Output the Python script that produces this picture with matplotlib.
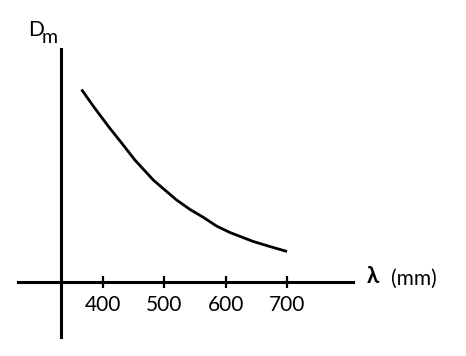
import matplotlib
matplotlib.use("Agg")
import matplotlib.pyplot as plt

# curve (arbitrary D units)
wavelength = [365, 387, 409, 431, 452, 482, 498, 520, 542, 564, 585, 607, 645, 672, 700]
dispersion = [1.92, 1.73, 1.55, 1.38, 1.215, 1.015, 0.93, 0.815, 0.72, 0.64, 0.555, 0.49, 0.40, 0.35, 0.30]
tick_vals = [400, 500, 600, 700]
tick_labels = ["400", "500", "600", "700"]

plt.rcParams['font.family'] = ['Lato', 'DejaVu Sans']

fig = plt.figure(figsize=(4.66, 3.56), dpi=100)
ax = fig.add_axes([0, 0, 1, 1])
ax.set_xlim(232.1, 991.8)
ax.set_ylim(-0.745, 2.815)

ax.plot(wavelength, dispersion, color='black', lw=2.0, solid_capstyle='butt',
        solid_joinstyle='round')

for s in ['top', 'right']:
    ax.spines[s].set_visible(False)
ax.spines['left'].set_position(('data', 331.5))
ax.spines['left'].set_bounds(-0.555, 2.325)
ax.spines['bottom'].set_position(('data', 0))
ax.spines['bottom'].set_bounds(261, 808)
for s in ['left', 'bottom']:
    ax.spines[s].set_linewidth(2.2)

ax.set_yticks([])
ax.set_xticks(tick_vals)
ax.set_xticklabels(tick_labels)
ax.tick_params(axis='x', direction='inout', length=8, width=1.6, pad=6, labelsize=15)

ax.text(0.061, 0.90, "D", transform=ax.transAxes, fontsize=15, ha='left', va='baseline')
ax.text(0.090, 0.88, "m", transform=ax.transAxes, fontsize=14, ha='left', va='baseline')
ax.text(0.787, 0.205, "λ", transform=ax.transAxes, fontsize=16, fontweight='bold', ha='left', va='baseline')
ax.text(0.840, 0.20, "(mm)", transform=ax.transAxes, fontsize=15, ha='left', va='baseline')

fig.savefig('out.png', dpi=100)
